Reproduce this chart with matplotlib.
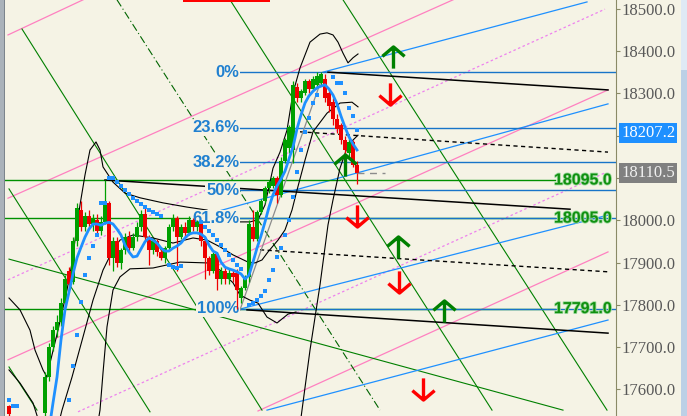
import numpy as np
import matplotlib
matplotlib.use("Agg")
import matplotlib.pyplot as plt
import matplotlib.patheffects as pe
from matplotlib.path import Path
from matplotlib.patches import Rectangle
from matplotlib.transforms import blended_transform_factory

BG = "#f5f3e5"

# velas: indice de barra y precios O/H/L/C (primera barra casi fuera del grafico)
bar_x = [-9] + list(range(79))
bar_open = [17561,
            17545, 17630, 17700, 17740, 17760, 17805, 17880, 17855, 17950, 18025,
            17985, 18010, 17990, 18000, 17975, 17995, 18040, 17910, 17950, 17900,
            17930, 17960, 17935, 17960, 17985, 18015, 17960, 17930, 17950, 17925,
            17910, 17935, 17985, 18005, 17960, 17985, 17970, 18000, 17985, 17995,
            17950, 17910, 17880, 17920, 17860, 17880, 17860, 17875, 17875, 17815,
            17840, 17865, 17985, 17955, 18020, 18045, 18075, 18080, 18100, 18060,
            18140, 18170, 18165, 18315, 18290, 18300, 18330, 18310, 18320, 18325,
            18335, 18300, 18280, 18240, 18225, 18190, 18160, 18185, 18130]
bar_high = [17564,
            17640, 17710, 17750, 17775, 17815, 17870, 17890, 17960, 18040, 18045,
            18020, 18025, 18015, 18015, 18010, 18095, 18045, 17960, 17960, 17935,
            17970, 17975, 17970, 17995, 18025, 18030, 17965, 17955, 17955, 17935,
            17940, 17990, 18015, 18010, 17990, 17995, 18010, 18005, 18000, 18000,
            17960, 17915, 17925, 17925, 17890, 17890, 17885, 17885, 17885, 17845,
            17870, 18000, 18025, 18025, 18050, 18080, 18095, 18105, 18105, 18150,
            18195, 18225, 18330, 18325, 18310, 18335, 18335, 18340, 18350, 18350,
            18345, 18310, 18290, 18250, 18230, 18200, 18195, 18190, 18140]
bar_low = [17530,
           17530, 17620, 17690, 17725, 17750, 17795, 17840, 17850, 17940, 17975,
           17975, 17980, 17975, 17965, 17965, 17990, 17895, 17880, 17890, 17885,
           17920, 17925, 17930, 17950, 17975, 17950, 17895, 17920, 17915, 17905,
           17900, 17930, 17975, 17880, 17955, 17960, 17965, 17975, 17975, 17940,
           17860, 17870, 17875, 17835, 17850, 17850, 17850, 17855, 17791, 17805,
           17835, 17855, 17950, 17950, 18015, 18040, 18065, 18075, 18040, 18055,
           18135, 18160, 18135, 18280, 18280, 18295, 18300, 18305, 18315, 18320,
           18280, 18255, 18225, 18205, 18180, 18155, 18150, 18125, 18085]
bar_close = [17542,
             17630, 17700, 17740, 17760, 17805, 17860, 17850, 17950, 18030, 17985,
             18010, 17990, 18005, 17975, 17995, 18040, 17910, 17950, 17900, 17930,
             17960, 17935, 17960, 17985, 18015, 17960, 17930, 17950, 17925, 17910,
             17935, 17985, 18005, 17960, 17985, 17970, 18000, 17985, 17995, 17950,
             17910, 17880, 17920, 17860, 17880, 17860, 17875, 17865, 17835, 17840,
             17865, 17990, 17955, 18020, 18045, 18075, 18090, 18100, 18060, 18140,
             18190, 18220, 18320, 18290, 18305, 18330, 18310, 18335, 18340, 18345,
             18290, 18270, 18240, 18215, 18190, 18165, 18185, 18130, 18110.5]

# media movil azul
ma_x = list(range(79))
ma_val = [17457, 17504, 17568, 17629, 17717, 17788, 17830, 17873, 17911, 17936,
          17960, 17979, 17991, 17991, 17988, 17993, 17995, 17991, 17979, 17965,
          17941, 17925, 17913, 17915, 17932, 17949, 17958, 17953, 17946, 17934,
          17927, 17927, 17934, 17939, 17946, 17958, 17967, 17970, 17970, 17967,
          17960, 17941, 17927, 17922, 17901, 17889, 17885, 17882, 17878, 17873,
          17861, 17870, 17901, 17934, 17963, 17996, 18031, 18060, 18081, 18097,
          18116, 18145, 18173, 18216, 18249, 18277, 18294, 18305, 18313, 18317,
          18320, 18310, 18296, 18275, 18246, 18220, 18197, 18180, 18166]

# puntos parabolic SAR
sar_x = [-9, -8, -7, 6, 7, 8, 9, 10, 11, 12, 13, 14, 15, 16, 17, 18, 19, 20, 21, 22,
         23, 24, 25, 26, 27, 28, 29, 31, 32, 33, 34, 39, 40, 41, 42, 43, 44, 45, 46,
         47, 48, 49, 51, 52, 53, 54, 55, 56, 57, 58, 59, 60, 61, 62, 63, 64, 65, 66,
         67, 68, 72, 73, 74, 75, 76, 77, 78]
sar_y = [17575, 17561, 17561, 17576, 17655, 17729, 17806, 17870, 17910, 17938, 17965,
         18041, 18041, 18099, 18099, 18090, 18081, 18071, 18062, 18052, 18045, 18038,
         18031, 18024, 18019, 18015, 18010, 17894, 17889, 17887, 17892, 17996, 17984,
         17974, 17965, 17953, 17941, 17930, 17918, 17906, 17894, 17885, 17799, 17804,
         17811, 17820, 17832, 17858, 17882, 17913, 17934, 17965, 18000, 18055, 18114,
         18166, 18208, 18242, 18277, 18296, 18338, 18324, 18324, 18300, 18265, 18246,
         18213]

# bandas negras
upper_x = [-9, -6.25, -3.75, -2.5, -0.5, 0.5, 1.25, 3.25, 5.5, 6.75, 8, 8.75, 10, 11.25,
           12.75, 13.75, 14.5, 17, 20, 23.75, 29.5, 35.5, 40.5, 43.75, 48, 51.25, 53.25,
           55, 57, 58.75, 60.5, 62, 63.75, 66.25, 68.75, 70.5, 72, 73.25, 74.5, 75.75, 77, 78.25]
upper_y = [17816, 17788, 17740, 17693, 17646, 17629, 17662, 17740, 17835, 17899, 17988,
           18036, 18107, 18166, 18185, 18166, 18126, 18090, 18064, 18053, 18041, 18031,
           18024, 18008, 17996, 17996, 18001, 18036, 18123, 18161, 18213, 18301, 18360,
           18421, 18440, 18443, 18438, 18421, 18395, 18372, 18384, 18393]
mid_x = [-9, -6.25, -3, -1.25, 1.25, 3, 4.25, 6.75, 9.5, 12, 14.5, 17, 18.75, 22, 27, 32,
         37, 40.5, 43.75, 47, 50.75, 52.5, 54.25, 55.75, 58.25, 60, 61.75, 63, 65, 67,
         70.5, 73.75, 76.75, 78.25]
mid_y = [17646, 17615, 17568, 17516, 17457, 17504, 17551, 17629, 17724, 17811, 17882,
         17930, 17953, 17965, 17958, 17946, 17958, 17953, 17937, 17918, 17901, 17899,
         17906, 17925, 17953, 17977, 18024, 18071, 18142, 18209, 18253, 18277, 18279, 18268]
low_x = [12.5, 13.75, 14.5, 15.5, 17, 18.75, 21.25, 27, 33.75, 40.5, 43.75, 47, 48.75,
         51.25, 53.25, 55.5, 58, 60.75, 62.75]
low_y = [17480, 17551, 17639, 17748, 17835, 17866, 17885, 17887, 17901, 17899, 17882,
         17852, 17823, 17811, 17804, 17771, 17757, 17778, 17783]
rise_x = [63.25, 66.25, 68.75, 70.75, 72, 73.75, 75.75, 78.25]
rise_y = [17480, 17693, 17847, 17989, 18048, 18123, 18178, 18201]

# lineas de tendencia ((x0, p0), (x1, p1))
pink_lines = [((-9.25, 18438), (9.5, 18521)), ((-9.25, 18052), (102, 18521)),
              ((-9.25, 17670), (140.75, 18308)), ((53.25, 17549), (140.75, 17925))]
violet_lines = [((-9.25, 17859), (140, 18499)), ((8.25, 17547), (140, 18112))]
blue_lines = [((69.5, 18350), (135.5, 18516)), ((36.25, 18003), (140.75, 18275)),
              ((48.75, 17790), (140.75, 18012)), ((55.5, 17551), (140.75, 17764))]
green_lines = [((-5.75, 18452), (54.25, 17551)), ((46.25, 18521), (111.75, 17551)),
               ((74.5, 18521), (140.5, 17551)), ((-9, 17653), (-2, 17551)),
               ((-9, 18074), (26.25, 17547)), ((-9, 17908), (129.5, 17551))]
dashdot_lines = [((18, 18521), (83.75, 17551))]
black_lines = [((15, 18095), (131.25, 18026)), ((70.75, 18350), (140.75, 18308)),
               ((50.5, 17788), (140.75, 17733))]
black_dashed = [((63.75, 18209), (140.75, 18161)), ((53.75, 17930), (140.75, 17878))]
gray_lines = [((48.75, 17788), (69.25, 18336))]

# fibonacci
fib_high = 18350
fib_low = 17791
fib_ratio = [0, 0.236, 0.382, 0.5, 0.618, 1.0]
fib_text = ["0%", "23.6%", "38.2%", "50%", "61.8%", "100%"]

# niveles verdes
level_val = [18095.0, 18005.0, 17791.0]

# flechas de senal
up_x = [87, 88.25, 99.75, 75]
up_y = [18386, 17937, 17785, 18131]
down_x = [86.25, 78, 88.5, 94.5]
down_y = [18298, 18010, 17854, 17601]

last_price = 18110.5
marker_price = 18207.2
tick_vals = [17600, 17700, 17800, 17900, 18000, 18100, 18200, 18300, 18400, 18500]
hidden_ticks = [18100, 18200]  # tapados por las cajas de precio

fig = plt.figure(figsize=(6.87, 4.16), dpi=100)
fig.patch.set_facecolor(BG)
ax = fig.add_axes([5 / 687, 0, 611 / 687, 1])
ax.set_facecolor(BG)
ax.set_xlim(-10, 142.75)
ax.set_ylim(17537.1, 18520.6)


def draw(lines, **kw):
    for (x0, y0), (x1, y1) in lines:
        ax.plot([x0, x1], [y0, y1], **kw)


draw(pink_lines, color="#ff80c0", lw=0.9, zorder=1)
draw(violet_lines, color="#ee82ee", lw=0.9, ls=(0, (2, 2)), zorder=1)
draw(green_lines, color="#008000", lw=0.8, zorder=1.2)
draw(dashdot_lines, color="#006400", lw=0.8, ls=(0, (7, 2.5, 1, 2.5)), zorder=1.2)
draw(blue_lines, color="#1e90ff", lw=0.9, zorder=1.3)

for v in level_val:
    ax.plot([-10, 127.5], [v, v], color="#009000", lw=1.0, zorder=1.4)

fib_levels = [fib_high - r * (fib_high - fib_low) for r in fib_ratio]
for v in fib_levels:
    ax.plot([48.75, 142.75], [v, v], color="#1874c8", lw=1.0, zorder=1.6)

draw(black_lines, color="black", lw=1.1, zorder=2)
draw(black_dashed, color="black", lw=1.0, ls=(0, (3, 2.5)), zorder=2)
draw(gray_lines, color="#8c8c8c", lw=0.9, zorder=2)

for cx, cy in [(upper_x, upper_y), (mid_x, mid_y), (low_x, low_y), (rise_x, rise_y)]:
    ax.plot(cx, cy, color="black", lw=0.8, zorder=2.2)

for v, t in zip(fib_levels, fib_text):
    ax.text(48.6, v, t, ha="right", va="center", fontsize=12, fontweight="bold",
            family="Liberation Sans", color="#2080d0", zorder=2.5,
            bbox=dict(boxstyle="square,pad=0.05", fc=BG, ec="none"))

# velas
for i in range(len(bar_x)):
    o, h, l, c = bar_open[i], bar_high[i], bar_low[i], bar_close[i]
    col = "#00a000" if c >= o else "#ee0000"
    ax.vlines(bar_x[i], l, h, color=col, lw=0.9, zorder=4)
    ax.bar(bar_x[i], c - o, bottom=o, width=0.8, color=col, lw=0, zorder=4)

ax.plot(ma_x, ma_val, color="#1e90ff", lw=2.0, zorder=5)
ax.plot(sar_x, sar_y, ls="none", marker="s", ms=2.2, color="#1e90ff", mew=0, zorder=5)

ax.plot([78, 85], [last_price, last_price], color="#8c8c8c", lw=1.0,
        ls=(0, (5, 4)), zorder=5)

# flechas
up_path = Path([(0, -1), (0, 0.95), (-1, 0.1), (0, 0.95), (1, 0.1)],
               [Path.MOVETO, Path.LINETO, Path.MOVETO, Path.LINETO, Path.LINETO])
down_path = Path([(0, 1), (0, -0.95), (-1, -0.1), (0, -0.95), (1, -0.1)],
                 [Path.MOVETO, Path.LINETO, Path.MOVETO, Path.LINETO, Path.LINETO])
ax.plot(up_x, up_y, ls="none", marker=up_path, ms=16, mfc="none", mec="#008000",
        mew=2.4, zorder=6)
ax.plot(down_x, down_y, ls="none", marker=down_path, ms=16, mfc="none", mec="#ff0000",
        mew=2.4, zorder=6)

for v in level_val:
    ax.text(141.75, v, f"{v:.1f}", ha="right", va="center", fontsize=11.5,
            fontweight="bold", family="Liberation Sans", color="#109010", zorder=7,
            path_effects=[pe.withStroke(linewidth=1.2, foreground="#9ad89a")])

# eje derecho
for s in ("top", "bottom", "left"):
    ax.spines[s].set_visible(False)
ax.spines["right"].set_color("#8a8a66")
ax.set_xticks([])
ax.yaxis.tick_right()
ax.set_yticks(tick_vals)
ax.set_yticklabels(["" if v in hidden_ticks else f"{v:.1f}" for v in tick_vals],
                   family="Liberation Serif", fontsize=12, color="#585858")
ax.tick_params(axis="y", direction="out", length=3, width=0.8, color="#8a8a66", pad=1.2)

trans = blended_transform_factory(ax.transAxes, ax.transData)
ax.text(1.0085, marker_price, f"{marker_price:.1f}", transform=trans, ha="left", va="center",
        fontsize=12, family="Liberation Serif", color="white", zorder=10, clip_on=False,
        bbox=dict(boxstyle="square,pad=0.12", fc="#1e90ff", ec="none"))
ax.text(1.0085, last_price, f"{last_price:.1f}", transform=trans, ha="left", va="center",
        fontsize=12, family="Liberation Serif", color="#f0f0f0", zorder=10, clip_on=False,
        bbox=dict(boxstyle="square,pad=0.12", fc="#808080", ec="none"))

# marcos de la ventana
fig.patches.append(Rectangle((0, 0), 5 / 687, 1, transform=fig.transFigure,
                             fc="#aab2ba", ec="none"))
fig.patches.append(Rectangle((3.5 / 687, 0), 1 / 687, 1, transform=fig.transFigure,
                             fc="#7c848c", ec="none"))
fig.patches.append(Rectangle((681 / 687, 0), 6 / 687, 1, transform=fig.transFigure,
                             fc="#bcd0e6", ec="none"))
fig.patches.append(Rectangle((681 / 687, 346 / 416), 6 / 687, 70 / 416,
                             transform=fig.transFigure, fc="#dfe9f5", ec="none"))
fig.patches.append(Rectangle((183 / 687, 414 / 416), 87 / 687, 2 / 416,
                             transform=fig.transFigure, fc="#ff0000", ec="none"))

fig.savefig("out.png", dpi=100, facecolor=BG)
